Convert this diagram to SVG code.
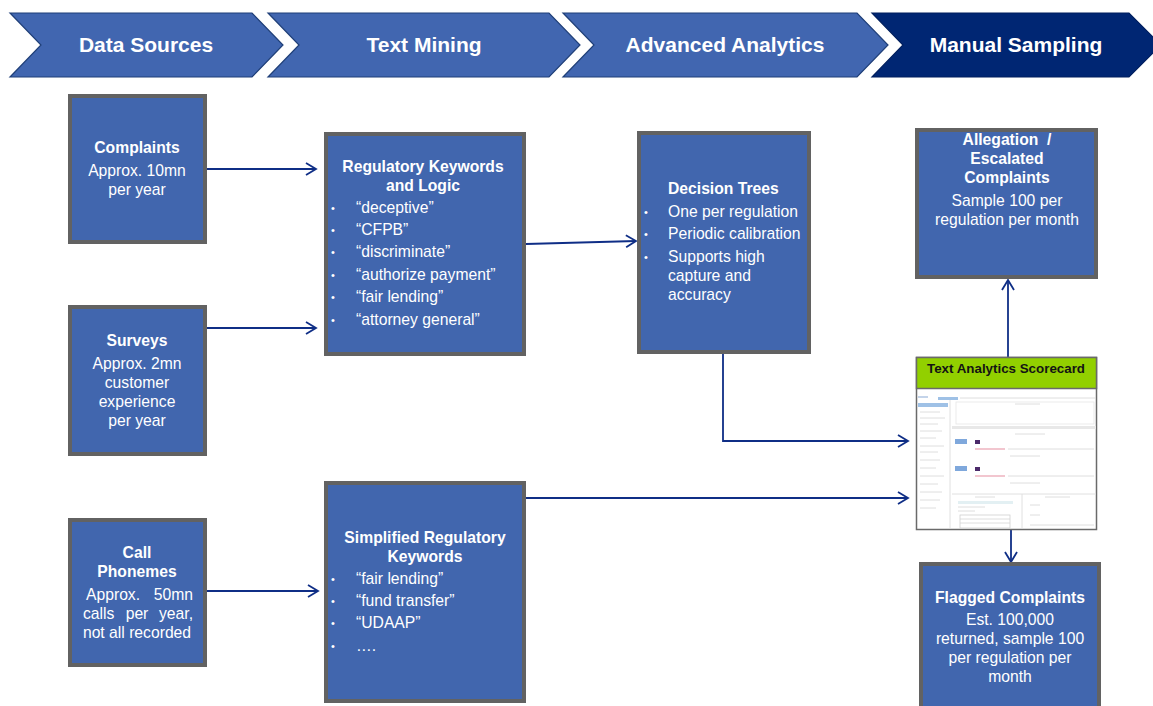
<svg xmlns="http://www.w3.org/2000/svg" width="1153" height="706" viewBox="0 0 1153 706">
<defs>
<style>
.chev{fill:#4166B0;stroke:#1F3F78;stroke-width:1.2}
.chev4{fill:#002673;stroke:#001F5E;stroke-width:1.2}
.ct{font-family:"Liberation Sans",Arial,sans-serif;font-weight:bold;font-size:21px;fill:#fff;text-anchor:middle}
.box{fill:#4166AE;stroke:#626262;stroke-width:4}
.t{font-family:"Liberation Sans",Arial,sans-serif;font-size:15.7px;fill:#fff}
.b{font-weight:bold}
.m{text-anchor:middle}
.e{text-anchor:end}
.bul{font-family:"Liberation Sans",Arial,sans-serif;font-size:11px;fill:#fff}
.conn{fill:none;stroke:#0F2E86;stroke-width:1.8}
.g{stroke:#d6d6d6;stroke-width:0.8;fill:none}
</style>
<marker id="arr" markerUnits="userSpaceOnUse" markerWidth="14" markerHeight="16" refX="11" refY="7" orient="auto" viewBox="0 0 14 16">
<path d="M1,1 L11,7 L1,13" fill="none" stroke="#0F2E86" stroke-width="1.8"/>
</marker>
</defs>

<g id="phase-data-sources">
<polygon class="chev" points="10,13 252,13 283,45 252,77 10,77 41,45"/>
<text class="ct" x="146" y="52">Data Sources</text>
</g>
<g id="phase-text-mining">
<polygon class="chev" points="268,13 549,13 580,45 549,77 268,77 299,45"/>
<text class="ct" x="424" y="52">Text Mining</text>
</g>
<g id="phase-advanced-analytics">
<polygon class="chev" points="563,13 857,13 888,45 857,77 563,77 594,45"/>
<text class="ct" x="725" y="52">Advanced Analytics</text>
</g>
<g id="phase-manual-sampling">
<polygon class="chev4" points="872,13 1129,13 1161,45 1129,77 872,77 903,45"/>
<text class="ct" x="1016" y="52">Manual Sampling</text>
</g>

<g id="connectors">
<path class="conn" d="M207,169 H316" marker-end="url(#arr)"/>
<path class="conn" d="M207,328 H316" marker-end="url(#arr)"/>
<path class="conn" d="M207,591 H318" marker-end="url(#arr)"/>
<path class="conn" d="M526,244 L636,241" marker-end="url(#arr)"/>
<path class="conn" d="M723,354 V441 H908" marker-end="url(#arr)"/>
<path class="conn" d="M526,498 H908" marker-end="url(#arr)"/>
<path class="conn" d="M1008,357 V280" marker-end="url(#arr)"/>
<path class="conn" d="M1011,530 V562" marker-end="url(#arr)"/>
</g>

<g id="complaints">
<rect class="box" x="70" y="96" width="135" height="146"/>
<text class="t b m" x="137" y="153">Complaints</text>
<text class="t m" x="137" y="176">Approx. 10mn</text>
<text class="t m" x="137" y="195">per year</text>
</g>

<g id="surveys">
<rect class="box" x="70" y="307" width="135" height="147"/>
<text class="t b m" x="137" y="346">Surveys</text>
<text class="t m" x="137" y="369">Approx. 2mn</text>
<text class="t m" x="137" y="388">customer</text>
<text class="t m" x="137" y="407">experience</text>
<text class="t m" x="137" y="426">per year</text>
</g>

<g id="call-phonemes">
<rect class="box" x="70" y="520" width="135" height="145"/>
<text class="t b m" x="137" y="558">Call</text>
<text class="t b m" x="137" y="577">Phonemes</text>
<text class="t" x="86" y="600">Approx.</text>
<text class="t e" x="193" y="600">50mn</text>
<text class="t" x="83" y="619">calls</text>
<text class="t m" x="137" y="619">per</text>
<text class="t e" x="193" y="619">year,</text>
<text class="t m" x="137" y="638">not all recorded</text>
</g>

<g id="regulatory-keywords">
<rect class="box" x="326" y="134" width="198" height="220"/>
<text class="t b m" x="423" y="172">Regulatory Keywords</text>
<text class="t b m" x="423" y="191">and Logic</text>
<text class="bul" x="331" y="212">•</text><text class="t" x="356" y="213">“deceptive”</text>
<text class="bul" x="331" y="234">•</text><text class="t" x="356" y="235">“CFPB”</text>
<text class="bul" x="331" y="256">•</text><text class="t" x="356" y="257">“discriminate”</text>
<text class="bul" x="331" y="279">•</text><text class="t" x="356" y="280">“authorize payment”</text>
<text class="bul" x="331" y="301">•</text><text class="t" x="356" y="302">“fair lending”</text>
<text class="bul" x="331" y="324">•</text><text class="t" x="356" y="325">“attorney general”</text>
</g>

<g id="simplified-keywords">
<rect class="box" x="326" y="483" width="198" height="218"/>
<text class="t b m" x="425" y="543">Simplified Regulatory</text>
<text class="t b m" x="425" y="562">Keywords</text>
<text class="bul" x="331" y="583">•</text><text class="t" x="356" y="584">“fair lending”</text>
<text class="bul" x="331" y="605">•</text><text class="t" x="356" y="606">“fund transfer”</text>
<text class="bul" x="331" y="627">•</text><text class="t" x="356" y="628">“UDAAP”</text>
<text class="bul" x="331" y="650">•</text><text class="t" x="356" y="651">….</text>
</g>

<g id="decision-trees">
<rect class="box" x="639" y="133" width="170" height="219"/>
<text class="t b" x="668" y="194">Decision Trees</text>
<text class="bul" x="644" y="216">•</text><text class="t" x="668" y="217">One per regulation</text>
<text class="bul" x="644" y="238">•</text><text class="t" x="668" y="239">Periodic calibration</text>
<text class="bul" x="644" y="261">•</text><text class="t" x="668" y="262">Supports high</text>
<text class="t" x="668" y="281">capture and</text>
<text class="t" x="668" y="300">accuracy</text>
</g>

<g id="allegation-escalated">
<rect class="box" x="917" y="130" width="179" height="147"/>
<text class="t b m" x="1007" y="145" xml:space="preserve">Allegation  /</text>
<text class="t b m" x="1007" y="164">Escalated</text>
<text class="t b m" x="1007" y="183">Complaints</text>
<text class="t m" x="1007" y="206">Sample 100 per</text>
<text class="t m" x="1007" y="225">regulation per month</text>
</g>

<g id="text-analytics-scorecard">
<rect x="916.5" y="357.5" width="180" height="172" fill="#ffffff" stroke="#6a6a6a" stroke-width="1.5"/>
<rect x="916.5" y="357.5" width="180" height="31" fill="#92D000" stroke="#6a6a6a" stroke-width="1.5"/>
<text x="1006" y="373" text-anchor="middle" font-family="'Liberation Sans',Arial,sans-serif" font-weight="bold" font-size="12.5" fill="#141414" textLength="158" lengthAdjust="spacingAndGlyphs">Text Analytics Scorecard</text>
<g>
<rect x="918" y="396" width="10" height="2" fill="#c4d4ea"/>
<rect x="938" y="397" width="20" height="3" fill="#9fc1e6"/>
<line class="g" x1="960" y1="398" x2="1096" y2="398"/>
<rect x="918" y="403" width="30" height="4" fill="#9fc1e6"/>
<line x1="950" y1="400" x2="950" y2="528" stroke="#e0e0e0" stroke-width="1"/>
<rect x="956" y="402" width="138" height="22" fill="none" stroke="#e6e6e6" stroke-width="0.8"/>
<line class="g" x1="1015" y1="404" x2="1040" y2="404"/>
<line class="g" x1="920" y1="412" x2="940" y2="412"/>
<line class="g" x1="920" y1="418" x2="945" y2="418"/>
<line class="g" x1="920" y1="424" x2="938" y2="424"/>
<line class="g" x1="920" y1="431" x2="942" y2="431"/>
<line class="g" x1="920" y1="438" x2="936" y2="438"/>
<line class="g" x1="920" y1="446" x2="944" y2="446"/>
<line class="g" x1="920" y1="452" x2="938" y2="452"/>
<line class="g" x1="920" y1="460" x2="940" y2="460"/>
<line class="g" x1="920" y1="468" x2="936" y2="468"/>
<line class="g" x1="920" y1="476" x2="944" y2="476"/>
<line class="g" x1="920" y1="484" x2="938" y2="484"/>
<line class="g" x1="920" y1="492" x2="942" y2="492"/>
<line class="g" x1="920" y1="500" x2="940" y2="500"/>
<line class="g" x1="920" y1="508" x2="936" y2="508"/>
<rect x="952" y="426" width="144" height="3" fill="#e8e8e8"/>
<line class="g" x1="1015" y1="434" x2="1045" y2="434"/>
<rect x="955" y="439" width="12" height="5" fill="#7fa8dc"/>
<rect x="975" y="440" width="5" height="4" fill="#4b2a6a"/>
<line x1="975" y1="449" x2="1005" y2="449" stroke="#e9a0b0" stroke-width="1.2"/>
<line class="g" x1="1008" y1="449" x2="1094" y2="449"/>
<line class="g" x1="1010" y1="456" x2="1040" y2="456"/>
<rect x="955" y="466" width="12" height="5" fill="#7fa8dc"/>
<rect x="975" y="467" width="5" height="4" fill="#4b2a6a"/>
<line x1="975" y1="476" x2="1005" y2="476" stroke="#e9a0b0" stroke-width="1.2"/>
<line class="g" x1="1008" y1="476" x2="1094" y2="476"/>
<line class="g" x1="1010" y1="483" x2="1040" y2="483"/>
<line x1="952" y1="494" x2="1096" y2="494" stroke="#e0e0e0" stroke-width="1"/>
<line x1="1022" y1="494" x2="1022" y2="528" stroke="#e0e0e0" stroke-width="1"/>
<line class="g" x1="975" y1="497" x2="995" y2="497"/>
<line class="g" x1="1045" y1="497" x2="1070" y2="497"/>
<rect x="958" y="501" width="55" height="3" fill="#e3f0f3"/>
<line class="g" x1="958" y1="507" x2="985" y2="507"/>
<line class="g" x1="958" y1="511" x2="975" y2="511"/>
<rect x="960" y="515" width="50" height="13" fill="none" stroke="#d0d0d0" stroke-width="0.8"/>
<line class="g" x1="960" y1="519" x2="1010" y2="519"/>
<line class="g" x1="960" y1="523" x2="1010" y2="523"/>
<line class="g" x1="1030" y1="505" x2="1040" y2="505"/>
<line class="g" x1="1030" y1="515" x2="1040" y2="515"/>
<line class="g" x1="1030" y1="525" x2="1094" y2="525"/>
</g>
</g>

<g id="flagged-complaints">
<rect class="box" x="921" y="564" width="178" height="150"/>
<text class="t b m" x="1010" y="603">Flagged Complaints</text>
<text class="t m" x="1010" y="625">Est. 100,000</text>
<text class="t m" x="1010" y="644">returned, sample 100</text>
<text class="t m" x="1010" y="663">per regulation per</text>
<text class="t m" x="1010" y="682">month</text>
</g>
</svg>
